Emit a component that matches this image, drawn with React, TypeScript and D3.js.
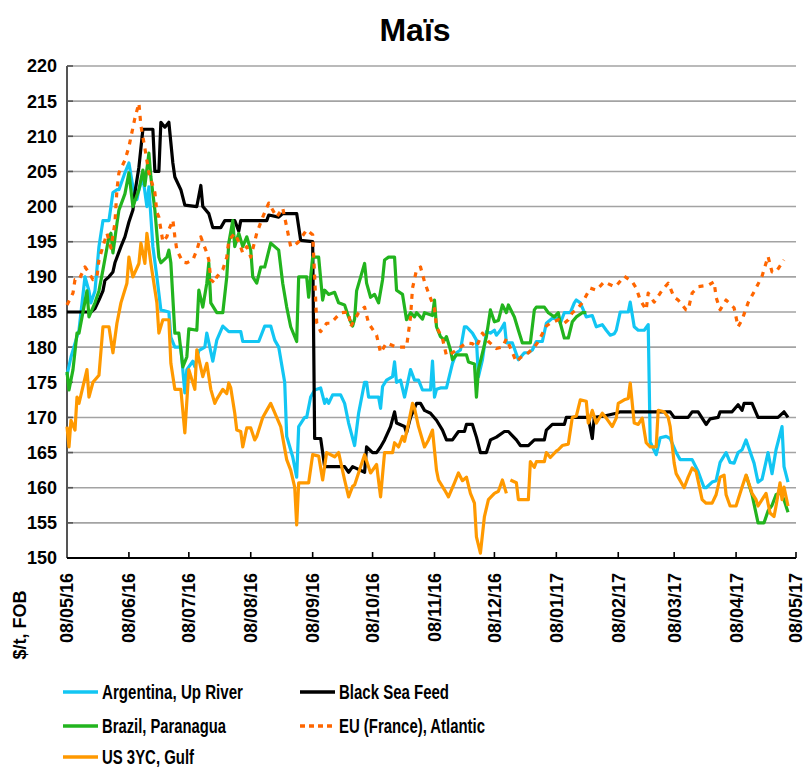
import React from "react";
import * as d3 from "d3";

type Pt = [string, number | null];

const title = "Maïs";
const yTitle = "$/t, FOB";
const xTickLabels = ["08/05/16","08/06/16","08/07/16","08/08/16","08/09/16","08/10/16","08/11/16","08/12/16","08/01/17","08/02/17","08/03/17","08/04/17","08/05/17"];
const yTicks = [150,155,160,165,170,175,180,185,190,195,200,205,210,215,220];
const seriesNames = ["Argentina, Up River","Black Sea Feed","Brazil, Paranagua","EU (France), Atlantic","US 3YC, Gulf"];

const argentina: Pt[] = [
["2016-05-08",176],["2016-05-10",178.6],["2016-05-13",181.5],["2016-05-14",182.4],["2016-05-17",190],["2016-05-19",188],["2016-05-20",186.3],["2016-05-22",188],["2016-05-24",194.3],["2016-05-26",198],["2016-05-29",198],["2016-05-31",202],["2016-06-02",202.4],["2016-06-03",202.4],["2016-06-06",204.8],["2016-06-08",206.2],["2016-06-10",202.8],["2016-06-12",201],["2016-06-13",202.4],["2016-06-15",204.2],["2016-06-17",200],["2016-06-18",202.8],["2016-06-20",194.3],["2016-06-22",190],["2016-06-24",185.3],["2016-06-28",185],["2016-06-29",181.4],["2016-07-01",180],["2016-07-04",180],["2016-07-06",173.5],["2016-07-07",176.8],["2016-07-10",178],["2016-07-11",177.2],["2016-07-13",179.5],["2016-07-16",180],["2016-07-17",182],["2016-07-20",178],["2016-07-22",181],["2016-07-25",183],["2016-07-28",182.2],["2016-08-03",182.2],["2016-08-04",180.8],["2016-08-12",180.8],["2016-08-15",183],["2016-08-18",183],["2016-08-20",181],["2016-08-22",180],["2016-08-25",175],["2016-08-26",167.3],["2016-08-29",164.4],["2016-08-31",161.5],["2016-09-01",168.7],["2016-09-04",170],["2016-09-05",170],["2016-09-07",172.9],["2016-09-09",173.9],["2016-09-12",174.2],["2016-09-14",172],["2016-09-15",172.6],["2016-09-16",172],["2016-09-18",173.2],["2016-09-22",173.2],["2016-09-24",172],["2016-09-26",169.2],["2016-09-29",166],["2016-10-01",170.6],["2016-10-04",175],["2016-10-05",175],["2016-10-06",172.9],["2016-10-11",172.9],["2016-10-12",171.3],["2016-10-13",174.4],["2016-10-15",175.3],["2016-10-18",175.8],["2016-10-19",177.9],["2016-10-20",175],["2016-10-22",175.3],["2016-10-24",172.9],["2016-10-27",176.8],["2016-10-29",175.3],["2016-10-31",175.3],["2016-11-02",173.9],["2016-11-06",173.9],["2016-11-07",178],["2016-11-08",172.9],["2016-11-09",174],["2016-11-11",174.2],["2016-11-14",174.2],["2016-11-17",177.7],["2016-11-19",179.2],["2016-11-21",179.6],["2016-11-23",182.9],["2016-11-24",182.9],["2016-11-27",182],["2016-11-29",181],["2016-11-30",175.8],["2016-12-02",178.2],["2016-12-04",182.2],["2016-12-06",182],["2016-12-08",182.4],["2016-12-09",181.7],["2016-12-11",182.4],["2016-12-13",183.4],["2016-12-14",180.6],["2016-12-17",180.6],["2016-12-20",178.2],["2016-12-23",179.2],["2016-12-25",179.2],["2016-12-27",179.6],["2016-12-29",180.8],["2017-01-01",180.8],["2017-01-03",183.4],["2017-01-06",184.1],["2017-01-09",184.1],["2017-01-10",183.4],["2017-01-12",184.9],["2017-01-15",184.9],["2017-01-17",186.3],["2017-01-18",186.7],["2017-01-20",186.3],["2017-01-23",184.3],["2017-01-26",184.5],["2017-01-28",182.9],["2017-01-31",183.2],["2017-02-02",182.4],["2017-02-04",181.7],["2017-02-06",181.9],["2017-02-07",182.4],["2017-02-09",185],["2017-02-11",185],["2017-02-13",185],["2017-02-14",186.4],["2017-02-16",182.9],["2017-02-18",182.4],["2017-02-21",182.4],["2017-02-23",183.2],["2017-02-24",166.5],["2017-02-27",164.7],["2017-03-01",167.1],["2017-03-04",167.3],["2017-03-06",167],["2017-03-09",165],["2017-03-11",164],["2017-03-17",164],["2017-03-20",162.3],["2017-03-23",160],["2017-03-24",160],["2017-03-27",160.8],["2017-03-29",161],["2017-03-31",163.6],["2017-04-03",165],["2017-04-05",163.6],["2017-04-07",163.5],["2017-04-09",165],["2017-04-11",165.4],["2017-04-13",166.8],["2017-04-17",163.5],["2017-04-19",160.8],["2017-04-21",161.2],["2017-04-24",165],["2017-04-26",162],["2017-04-28",165.4],["2017-05-01",168.7],["2017-05-02",163],["2017-05-04",160.8]
];

const blackSea: Pt[] = [
["2016-05-08",185],["2016-05-20",185],["2016-05-22",185.5],["2016-05-24",186.7],["2016-05-26",188],["2016-05-27",189.5],["2016-05-29",190],["2016-05-31",190.7],["2016-06-01",192],["2016-06-04",194.3],["2016-06-06",195.7],["2016-06-08",197.8],["2016-06-10",199.5],["2016-06-11",202],["2016-06-13",205.6],["2016-06-15",211],["2016-06-20",211],["2016-06-21",205],["2016-06-23",205],["2016-06-24",212],["2016-06-26",211.3],["2016-06-28",212],["2016-06-30",206.2],["2016-07-01",204.2],["2016-07-04",202.4],["2016-07-06",200.2],["2016-07-12",200],["2016-07-14",203],["2016-07-15",200],["2016-07-18",199],["2016-07-20",197],["2016-07-24",197],["2016-07-26",198],["2016-07-31",198],["2016-08-02",196.5],["2016-08-03",198],["2016-08-16",198],["2016-08-17",198.8],["2016-08-22",198.5],["2016-08-24",199],["2016-08-31",199],["2016-09-02",195.2],["2016-09-08",195],["2016-09-09",167],["2016-09-12",167],["2016-09-14",163],["2016-09-24",163],["2016-09-26",162.2],["2016-09-28",163],["2016-10-04",162.2],["2016-10-05",165.8],["2016-10-08",165],["2016-10-10",165],["2016-10-12",165.8],["2016-10-14",166.8],["2016-10-17",168.7],["2016-10-19",170.8],["2016-10-20",169.2],["2016-10-24",168.7],["2016-10-25",167.8],["2016-10-27",170],["2016-10-30",172],["2016-11-01",172],["2016-11-03",171],["2016-11-06",170.6],["2016-11-09",169.6],["2016-11-12",168.2],["2016-11-14",166.8],["2016-11-17",166.8],["2016-11-20",168],["2016-11-23",168],["2016-11-24",169],["2016-11-27",169],["2016-11-29",167.2],["2016-12-01",165],["2016-12-04",165],["2016-12-06",166.8],["2016-12-09",167.2],["2016-12-13",168],["2016-12-15",168],["2016-12-19",166.8],["2016-12-21",166],["2016-12-25",166],["2016-12-28",166.8],["2017-01-02",166.8],["2017-01-03",168.2],["2017-01-06",169],["2017-01-12",169],["2017-01-13",170],["2017-01-24",170],["2017-01-26",167],["2017-01-27",170],["2017-02-01",170.2],["2017-02-07",170.6],["2017-02-09",170.8],["2017-02-23",170.8],["2017-03-06",170.8],["2017-03-08",170],["2017-03-15",170],["2017-03-17",170.8],["2017-03-20",170.8],["2017-03-24",169],["2017-03-26",169.8],["2017-03-30",170],["2017-03-31",170.8],["2017-04-06",170.8],["2017-04-09",171.8],["2017-04-11",171],["2017-04-12",172],["2017-04-16",172],["2017-04-19",170],["2017-04-29",170],["2017-05-02",170.8],["2017-05-04",170]
];

const brazil: Pt[] = [
["2016-05-08",176.5],["2016-05-09",173.9],["2016-05-11",176.8],["2016-05-13",182],["2016-05-14",182],["2016-05-18",188],["2016-05-19",184.3],["2016-05-22",186.3],["2016-05-24",188],["2016-05-26",191],["2016-05-29",195.7],["2016-05-30",196.2],["2016-05-31",193.4],["2016-06-02",197.6],["2016-06-03",199.5],["2016-06-06",201.8],["2016-06-08",204.8],["2016-06-10",200],["2016-06-13",202.4],["2016-06-15",205.2],["2016-06-16",203],["2016-06-18",207.6],["2016-06-19",204.2],["2016-06-21",199.5],["2016-06-23",192.8],["2016-06-24",192],["2016-06-27",192.8],["2016-06-28",193.8],["2016-06-29",192],["2016-07-01",182],["2016-07-03",182],["2016-07-05",177.2],["2016-07-07",178.6],["2016-07-08",182.6],["2016-07-12",182.4],["2016-07-13",188.1],["2016-07-15",185.7],["2016-07-17",189.1],["2016-07-18",192],["2016-07-19",186.3],["2016-07-22",184.9],["2016-07-25",184.9],["2016-07-27",190],["2016-07-28",194.8],["2016-07-30",198],["2016-07-31",194.3],["2016-08-02",196.2],["2016-08-04",194.3],["2016-08-06",195.7],["2016-08-08",193.8],["2016-08-09",190],["2016-08-11",189.1],["2016-08-13",191.4],["2016-08-15",191.4],["2016-08-18",194.8],["2016-08-22",193.8],["2016-08-24",189.1],["2016-08-26",185.7],["2016-08-28",182.9],["2016-08-31",180.8],["2016-09-01",190],["2016-09-05",190],["2016-09-06",187.1],["2016-09-08",192.8],["2016-09-11",192.8],["2016-09-13",186.7],["2016-09-14",188.1],["2016-09-16",187.5],["2016-09-19",187.8],["2016-09-21",186.3],["2016-09-24",186],["2016-09-26",184.3],["2016-09-28",183],["2016-09-29",184],["2016-09-30",188],["2016-10-04",191.9],["2016-10-05",189.1],["2016-10-07",187.1],["2016-10-09",187.5],["2016-10-11",186.3],["2016-10-13",189.6],["2016-10-14",192.4],["2016-10-16",192.8],["2016-10-19",192.8],["2016-10-20",188.1],["2016-10-23",187.5],["2016-10-25",183.9],["2016-10-27",184.9],["2016-10-29",184.3],["2016-10-30",184.9],["2016-11-02",184],["2016-11-03",184.9],["2016-11-07",184.5],["2016-11-08",186.7],["2016-11-09",182.9],["2016-11-11",181.5],["2016-11-13",181],["2016-11-14",181.5],["2016-11-16",179.6],["2016-11-17",178.2],["2016-11-19",178.9],["2016-11-24",178.9],["2016-11-25",177.9],["2016-11-28",177.6],["2016-11-29",172.9],["2016-11-30",176.8],["2016-12-04",181.5],["2016-12-06",185.3],["2016-12-08",183.6],["2016-12-10",183.8],["2016-12-12",186],["2016-12-14",184.9],["2016-12-15",186],["2016-12-18",184.3],["2016-12-20",182.4],["2016-12-22",180.6],["2016-12-26",180.6],["2016-12-28",185.3],["2016-12-29",185.7],["2017-01-02",185.7],["2017-01-04",184.9],["2017-01-07",184.3],["2017-01-09",184.9],["2017-01-10",183.4],["2017-01-12",181.3],["2017-01-14",181.3],["2017-01-16",183.6],["2017-01-18",184.3],["2017-01-21",184.9],["2017-01-23",184.9],["2017-01-24",null],
["2017-04-12",null],["2017-04-13",161.8],["2017-04-16",159],["2017-04-19",155],["2017-04-22",155],["2017-04-24",156.7],["2017-04-26",157.5],["2017-04-28",159],["2017-04-30",159.3],["2017-05-02",158.3],["2017-05-04",156.5]
];

const euFrance: Pt[] = [
["2016-05-08",186],["2016-05-11",187.7],["2016-05-12",189.6],["2016-05-14",189.6],["2016-05-17",191.4],["2016-05-19",190.6],["2016-05-21",189.6],["2016-05-23",190],["2016-05-24",192.4],["2016-05-25",193.4],["2016-05-28",196.2],["2016-05-30",194.1],["2016-06-01",197.7],["2016-06-02",202.4],["2016-06-03",204.8],["2016-06-06",206.6],["2016-06-08",208.5],["2016-06-11",212.6],["2016-06-13",214.7],["2016-06-14",211.5],["2016-06-16",208.3],["2016-06-18",204.8],["2016-06-21",202],["2016-06-22",199.2],["2016-06-23",198.5],["2016-06-25",195],["2016-06-27",195.7],["2016-06-28",196.7],["2016-06-30",198.1],["2016-07-01",195.7],["2016-07-02",193.8],["2016-07-05",192.1],["2016-07-07",192],["2016-07-10",192.4],["2016-07-12",193.8],["2016-07-14",195.7],["2016-07-17",193.4],["2016-07-18",192.4],["2016-07-19",189.6],["2016-07-21",189.1],["2016-07-22",190],["2016-07-25",191],["2016-07-27",192.8],["2016-07-28",195.2],["2016-07-31",196.2],["2016-08-02",195],["2016-08-04",193.4],["2016-08-06",194.3],["2016-08-08",192.8],["2016-08-11",196.2],["2016-08-14",198.5],["2016-08-17",200.5],["2016-08-21",198.5],["2016-08-24",199.8],["2016-08-26",197.1],["2016-08-28",194.3],["2016-08-30",194.5],["2016-09-01",195],["2016-09-05",196.7],["2016-09-08",196],["2016-09-09",190],["2016-09-10",183.5],["2016-09-12",182.2],["2016-09-15",183.4],["2016-09-17",183.4],["2016-09-22",184.9],["2016-09-26",185],["2016-09-27",182.9],["2016-10-01",184.9],["2016-10-04",185.7],["2016-10-06",183.4],["2016-10-10",181.7],["2016-10-12",179.2],["2016-10-15",180.6],["2016-10-20",180],["2016-10-25",180],["2016-10-27",184.3],["2016-10-28",188.4],["2016-10-30",191],["2016-11-01",191.4],["2016-11-03",189.3],["2016-11-05",187.7],["2016-11-08",185.5],["2016-11-09",182.9],["2016-11-12",181.2],["2016-11-14",178.8],["2016-11-17",179.2],["2016-11-19",179.6],["2016-11-24",180.6],["2016-11-27",180.5],["2016-11-29",180],["2016-12-02",182],["2016-12-05",180.8],["2016-12-09",179.8],["2016-12-12",180],["2016-12-14",181.2],["2016-12-19",177.9],["2016-12-21",178.5],["2016-12-25",179.2],["2016-12-28",180],["2016-12-30",180.8],["2017-01-03",183],["2017-01-05",183.4],["2017-01-09",183.9],["2017-01-12",183.4],["2017-01-14",183.9],["2017-01-16",184.9],["2017-01-18",185.3],["2017-01-21",186.3],["2017-01-25",188.4],["2017-01-28",188.1],["2017-02-01",189.3],["2017-02-06",188.6],["2017-02-07",188.7],["2017-02-11",190.1],["2017-02-15",189.3],["2017-02-17",188.4],["2017-02-19",186.7],["2017-02-22",185.3],["2017-02-23",187.7],["2017-02-26",186.4],["2017-03-02",188.1],["2017-03-05",189.1],["2017-03-08",187.1],["2017-03-10",186.7],["2017-03-14",185.3],["2017-03-15",185.3],["2017-03-17",187.7],["2017-03-20",188.6],["2017-03-25",188.8],["2017-03-28",189.3],["2017-03-29",187.1],["2017-03-31",185.3],["2017-04-03",186.7],["2017-04-07",185.6],["2017-04-09",182.9],["2017-04-11",183.9],["2017-04-14",186.3],["2017-04-18",188.4],["2017-04-21",190.1],["2017-04-24",192.9],["2017-04-26",190.7],["2017-04-28",190.7],["2017-05-02",192.4]
];

const usGulf: Pt[] = [
["2016-05-08",168.7],["2016-05-09",165.8],["2016-05-10",169.6],["2016-05-12",168.2],["2016-05-13",172.9],["2016-05-14",172],["2016-05-18",176.8],["2016-05-19",172.9],["2016-05-21",175],["2016-05-24",176],["2016-05-26",182.9],["2016-05-29",182.9],["2016-05-31",179.2],["2016-06-02",183.4],["2016-06-04",186.3],["2016-06-07",189.1],["2016-06-08",192.8],["2016-06-10",190],["2016-06-13",191.9],["2016-06-14",194.8],["2016-06-16",191.9],["2016-06-17",196.2],["2016-06-19",191.9],["2016-06-22",186.3],["2016-06-23",182],["2016-06-25",183.9],["2016-06-28",183.9],["2016-06-29",177.7],["2016-07-01",174],["2016-07-04",174],["2016-07-06",167.8],["2016-07-08",176.8],["2016-07-11",174],["2016-07-12",179.6],["2016-07-15",175.8],["2016-07-17",177.7],["2016-07-19",174],["2016-07-21",172],["2016-07-22",172.6],["2016-07-25",174],["2016-07-27",173.4],["2016-07-28",174.9],["2016-07-29",174.2],["2016-07-31",170.6],["2016-08-01",168.2],["2016-08-03",168],["2016-08-04",165.8],["2016-08-06",168.5],["2016-08-08",168.5],["2016-08-10",166.8],["2016-08-11",167.3],["2016-08-14",170],["2016-08-16",171],["2016-08-18",172],["2016-08-21",170],["2016-08-23",168.7],["2016-08-26",164],["2016-08-28",162.5],["2016-08-30",160.1],["2016-08-31",154.7],["2016-09-01",160.7],["2016-09-06",160.7],["2016-09-08",164.7],["2016-09-11",164.5],["2016-09-13",161.1],["2016-09-15",165],["2016-09-19",164.4],["2016-09-21",165],["2016-09-24",161.1],["2016-09-26",158.7],["2016-09-28",160.2],["2016-09-29",160.4],["2016-10-02",163],["2016-10-04",164.7],["2016-10-07",162.1],["2016-10-10",163.3],["2016-10-12",158.7],["2016-10-14",165],["2016-10-18",165],["2016-10-19",166.4],["2016-10-21",165.8],["2016-10-23",167.3],["2016-10-24",166.6],["2016-10-26",169.2],["2016-10-28",172],["2016-10-29",171.3],["2016-10-31",168.7],["2016-11-03",165.8],["2016-11-05",166.8],["2016-11-07",168.2],["2016-11-09",162.5],["2016-11-10",161.1],["2016-11-13",159.7],["2016-11-15",158.7],["2016-11-18",160.7],["2016-11-20",162.1],["2016-11-22",161],["2016-11-24",161.5],["2016-11-26",159.2],["2016-11-28",157.8],["2016-11-29",153],["2016-12-01",150.7],["2016-12-03",155.9],["2016-12-05",158.3],["2016-12-08",159.2],["2016-12-10",159.5],["2016-12-12",161.1],["2016-12-14",159.2],["2016-12-15",null],["2016-12-16",161.1],["2016-12-19",160.7],["2016-12-20",158.3],["2016-12-25",158.3],["2016-12-26",163.7],["2016-12-28",162.9],["2016-12-29",163.7],["2017-01-02",163.7],["2017-01-03",165],["2017-01-05",164.3],["2017-01-08",165.2],["2017-01-09",165.4],["2017-01-11",166],["2017-01-14",166.2],["2017-01-16",170],["2017-01-18",170.2],["2017-01-20",172.5],["2017-01-23",172.3],["2017-01-24",169.2],["2017-01-26",171],["2017-01-28",169.2],["2017-01-31",170.6],["2017-02-02",169.9],["2017-02-05",168.7],["2017-02-07",169.9],["2017-02-08",172],["2017-02-11",172.5],["2017-02-13",172.7],["2017-02-14",174.9],["2017-02-16",169.2],["2017-02-18",169],["2017-02-20",169.9],["2017-02-22",166.4],["2017-02-24",165.8],["2017-02-27",165.8],["2017-02-28",171],["2017-03-03",170.8],["2017-03-05",170],["2017-03-06",168.7],["2017-03-08",163.5],["2017-03-09",162],["2017-03-13",160],["2017-03-15",161.5],["2017-03-17",162.8],["2017-03-19",162.3],["2017-03-22",158.3],["2017-03-24",157.8],["2017-03-27",157.8],["2017-03-29",159],["2017-03-31",161.5],["2017-04-02",161.8],["2017-04-03",159],["2017-04-05",157.4],["2017-04-08",157.4],["2017-04-11",160.1],["2017-04-13",161.8],["2017-04-16",159.2],["2017-04-18",158.3],["2017-04-19",157.4],["2017-04-21",158.3],["2017-04-23",159.2],["2017-04-25",156.4],["2017-04-27",155.9],["2017-04-28",157.4],["2017-04-30",160.7],["2017-05-01",158.3],["2017-05-02",160.1],["2017-05-04",157.4]
];

const seriesData: Pt[][] = [argentina, blackSea, brazil, euFrance, usGulf];
const seriesColors = ["#12c6f3", "#000000", "#22b41e", "#ff6600", "#ff9900"];
const seriesDash = [null, null, null, "5,6", null];
const drawOrder = [0, 1, 2, 4, 3];
const legendTextWidth = [141, 110, 124, 146, 92];

const FONT = "'Liberation Sans', Arial, Helvetica, sans-serif";

export default function App() {
  const W = 807, H = 770;
  const left = 67, right = 796, top = 66, bottom = 558;
  const parseIso = d3.timeParse("%Y-%m-%d");
  const parseTick = d3.timeParse("%d/%m/%y");
  const tickDates = xTickLabels.map((s) => parseTick(s) as Date);
  const x = d3.scaleTime().domain([tickDates[0], tickDates[tickDates.length - 1]]).range([left, right]);
  const y = d3.scaleLinear().domain([150, 220]).range([bottom, top]);
  const line = d3
    .line<Pt>()
    .defined((d) => d[1] != null)
    .x((d) => x(parseIso(d[0]) as Date))
    .y((d) => y(d[1] as number));

  const legendCols = [63, 300];
  const legendRows = [692, 726, 757];

  return (
    <svg width={W} height={H} style={{ position: "absolute", left: 0, top: 0, background: "#fff" }} fontFamily={FONT}>
      <rect x={0} y={0} width={W} height={H} fill="#fff" />
      <text x={415} y={41} textAnchor="middle" fontSize={32} fontWeight="bold">{title}</text>
      {yTicks.map((v) => (
        <g key={v}>
          {v !== 150 && <line x1={left} x2={right} y1={y(v)} y2={y(v)} stroke="#a3a3a3" strokeWidth={1.6} />}
          <line x1={left} x2={left + 6} y1={y(v)} y2={y(v)} stroke="#555" strokeWidth={1.6} />
          <text x={57} y={y(v)} dy="0.36em" textAnchor="end" fontSize={18} fontWeight="bold">{v}</text>
        </g>
      ))}
      {tickDates.map((t, i) => (
        <g key={i}>
          <line x1={x(t)} x2={x(t)} y1={bottom} y2={bottom - 6} stroke="#000" strokeWidth={1.6} />
          <text transform={`translate(${x(t)},573) rotate(-90)`} dy="0.36em" textAnchor="end" fontSize={18} fontWeight="bold">{xTickLabels[i]}</text>
        </g>
      ))}
      <line x1={left} x2={left} y1={top} y2={bottom} stroke="#555" strokeWidth={2} />
      <line x1={left} x2={right} y1={bottom} y2={bottom} stroke="#000" strokeWidth={2} />
      <text transform="translate(20,625) rotate(-90)" dy="0.36em" textAnchor="middle" fontSize={18} fontWeight="bold">{yTitle}</text>
      {drawOrder.map((i) => (
        <path key={i} d={line(seriesData[i]) || ""} fill="none" stroke={seriesColors[i]} strokeWidth={3.2} strokeLinejoin="round" strokeDasharray={seriesDash[i] || undefined} />
      ))}
      {seriesNames.map((name, i) => {
        const cx = legendCols[i % 2];
        const cy = legendRows[Math.floor(i / 2)];
        return (
          <g key={name}>
            <line x1={cx} x2={cx + 35} y1={cy} y2={cy} stroke={seriesColors[i]} strokeWidth={3.5} strokeDasharray={i === 3 ? "5,4" : undefined} />
            <text x={cx + 39} y={cy} dy="0.35em" fontSize={21} fontWeight="bold" textLength={legendTextWidth[i]} lengthAdjust="spacingAndGlyphs">{name}</text>
          </g>
        );
      })}
    </svg>
  );
}
